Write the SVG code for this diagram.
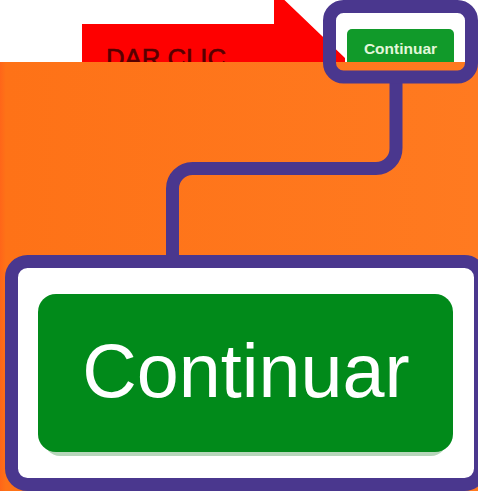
<svg xmlns="http://www.w3.org/2000/svg" width="478" height="491" viewBox="0 0 478 491">
  <defs>
    <linearGradient id="org" x1="0" y1="0" x2="1" y2="0">
      <stop offset="0" stop-color="#ff6519"/>
      <stop offset="0.012" stop-color="#fe7217"/>
      <stop offset="1" stop-color="#ff7a20"/>
    </linearGradient>
    <style>
      .frame { fill: #ffffff; stroke: #4a378e; stroke-width: 13; }
      .conn { fill: none; stroke: #4a378e; stroke-width: 13; }
      .btn { font-family: "Liberation Sans", Arial, sans-serif; text-anchor: middle; }
    </style>
  </defs>
  <rect x="0" y="0" width="478" height="491" fill="#ffffff"/>
  <g id="background">
    <path d="M82,24 H274 V-10 L345,58 L345,70 H82 Z" fill="#fe0000"/>
    <text x="106" y="67" font-family="'Liberation Sans', Arial, sans-serif" font-size="26" fill="#560000" stroke="#560000" stroke-width="0.6" textLength="120" lengthAdjust="spacingAndGlyphs">DAR CLIC</text>
    <rect x="347" y="29" width="107" height="45" rx="5" fill="#119a2a"/>
    <text class="btn" x="400.5" y="54" font-size="15.5" font-weight="bold" fill="#e2f7da">Continuar</text>
    <rect x="0" y="62" width="478" height="429" fill="url(#org)"/>
  </g>
  <g id="connectors">
    <path class="conn" d="M396,83 V148 A20,20 0 0 1 376,168.5 H192.5 A20,20 0 0 0 172.5,188.5 V262"/>
  </g>
  <g id="node-small">
    <rect class="frame" x="329.5" y="6.5" width="142" height="70.5" rx="14" style="fill:none"/>
  </g>
  <g id="node-large">
    <rect class="frame" x="11.5" y="261.5" width="469" height="223" rx="16"/>
    <rect x="44" y="300" width="403" height="156" rx="16" fill="#2f8a3a" opacity="0.35"/>
    <rect x="38" y="294" width="415" height="158" rx="18" fill="#018a1a"/>
    <text class="btn" x="246" y="397" font-size="75.5" fill="#ffffff">Continuar</text>
  </g>
</svg>
